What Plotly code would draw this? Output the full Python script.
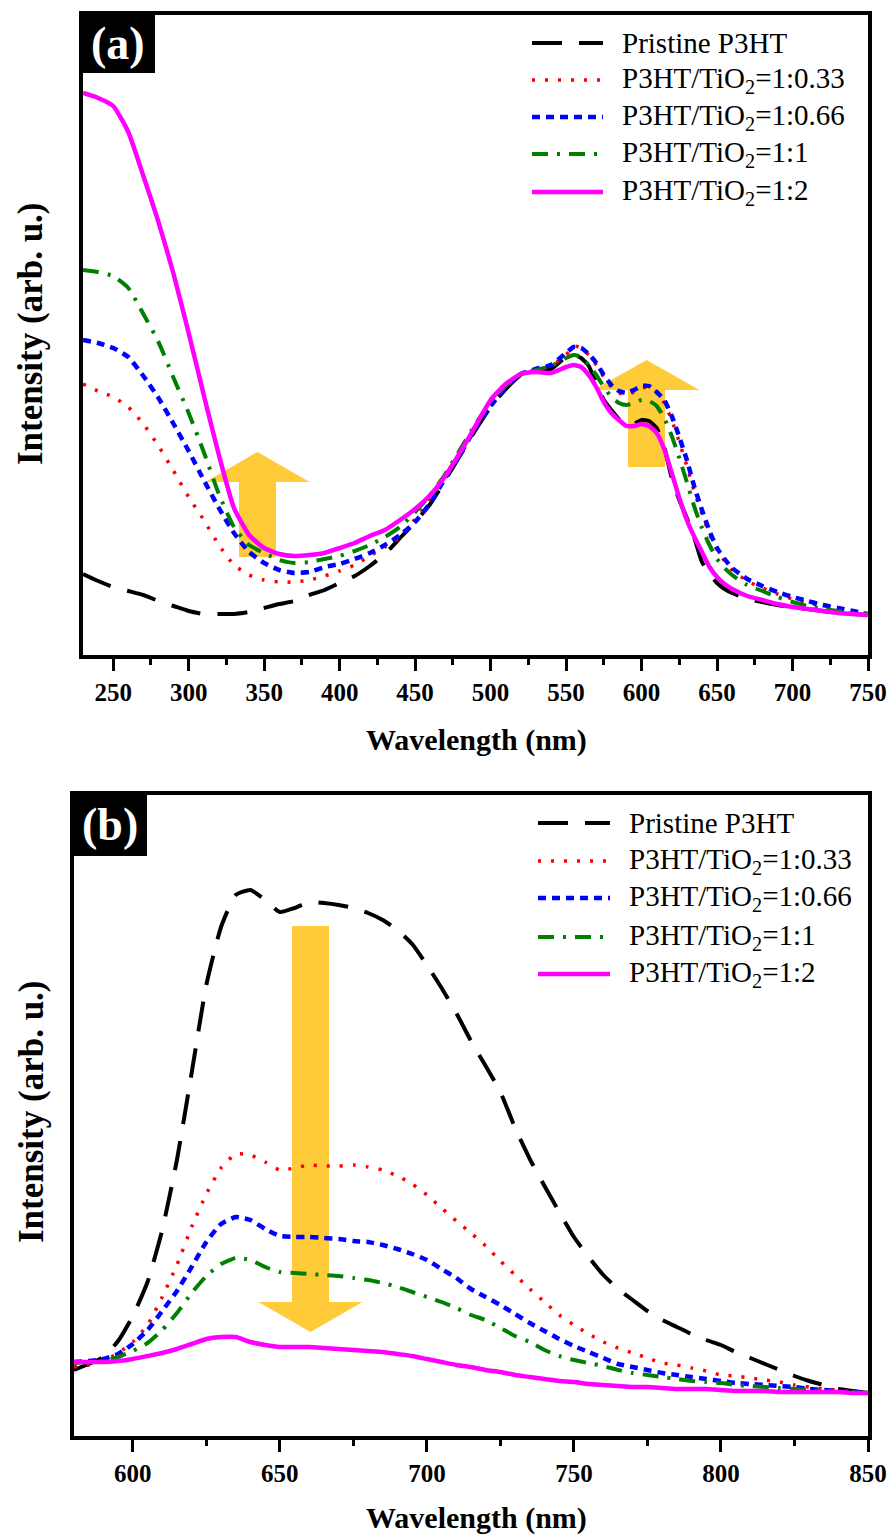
import plotly.graph_objects as go

W, H = 896, 1538

# ---------------- data ----------------
series_names = [
    "Pristine P3HT",
    "P3HT/TiO<sub>2</sub>=1:0.33",
    "P3HT/TiO<sub>2</sub>=1:0.66",
    "P3HT/TiO<sub>2</sub>=1:1",
    "P3HT/TiO<sub>2</sub>=1:2",
]

# (a) absorption, wavelength (nm)
wl_abs = [230, 240, 250, 260, 270, 280, 290, 300, 310, 320, 330, 340, 350, 360, 370, 380,
          390, 400, 410, 420, 430, 440, 450, 460, 470, 480, 490, 500, 510, 520, 530, 540,
          550, 555, 560, 565, 570, 575, 580, 585, 590, 595, 600, 605, 610, 615, 620, 625,
          630, 635, 640, 645, 650, 655,
          660, 670, 680, 690, 700, 710, 720, 730, 740, 750]

abs_pristine = [0.083, 0.076, 0.070, 0.066, 0.062, 0.056, 0.051, 0.046, 0.043, 0.043, 0.043, 0.045,
                0.049, 0.053, 0.056, 0.062, 0.067, 0.074, 0.081, 0.091, 0.103, 0.119, 0.135, 0.153,
                0.177, 0.202, 0.227, 0.250, 0.268, 0.282, 0.286, 0.288,
                0.300, 0.302, 0.299, 0.291, 0.274, 0.257, 0.247, 0.238, 0.233, 0.233, 0.237, 0.236,
                0.229, 0.210, 0.179, 0.157, 0.139, 0.119, 0.095, 0.083, 0.074, 0.068,
                0.064, 0.058, 0.055, 0.052, 0.050, 0.048, 0.046, 0.044, 0.043, 0.042]
abs_033 = [0.273, 0.266, 0.260, 0.250, 0.233, 0.211, 0.186, 0.160, 0.137, 0.112, 0.092, 0.082,
           0.077, 0.075, 0.075, 0.077, 0.081, 0.086, 0.092, 0.101, 0.110, 0.120, 0.138, 0.158,
           0.182, 0.205, 0.229, 0.251, 0.268, 0.282, 0.287, 0.291,
           0.302, 0.311, 0.309, 0.302, 0.292, 0.280, 0.270, 0.264, 0.262, 0.265, 0.269, 0.270,
           0.265, 0.254, 0.237, 0.215, 0.191, 0.165, 0.143, 0.123, 0.107, 0.096,
           0.087, 0.076, 0.069, 0.063, 0.058, 0.054, 0.051, 0.048, 0.045, 0.043]
abs_066 = [0.317, 0.314, 0.309, 0.300, 0.281, 0.259, 0.233, 0.206, 0.177, 0.149, 0.124, 0.105,
           0.094, 0.087, 0.084, 0.085, 0.090, 0.093, 0.098, 0.104, 0.112, 0.122, 0.135, 0.154,
           0.179, 0.203, 0.229, 0.251, 0.269, 0.283, 0.288, 0.292,
           0.304, 0.310, 0.309, 0.303, 0.294, 0.282, 0.272, 0.266, 0.264, 0.267, 0.271, 0.271,
           0.265, 0.257, 0.241, 0.220, 0.197, 0.170, 0.147, 0.126, 0.109, 0.098,
           0.089, 0.078, 0.071, 0.065, 0.060, 0.056, 0.052, 0.049, 0.046, 0.043]
abs_1 = [0.387, 0.385, 0.381, 0.369, 0.343, 0.315, 0.279, 0.244, 0.205, 0.163, 0.130, 0.112,
         0.104, 0.097, 0.094, 0.095, 0.098, 0.101, 0.106, 0.112, 0.120, 0.130, 0.145, 0.162,
         0.183, 0.208, 0.233, 0.255, 0.271, 0.282, 0.287, 0.291,
         0.299, 0.302, 0.300, 0.292, 0.282, 0.270, 0.260, 0.254, 0.252, 0.254, 0.257, 0.256,
         0.251, 0.239, 0.221, 0.199, 0.175, 0.150, 0.129, 0.112, 0.098, 0.089,
         0.082, 0.072, 0.066, 0.060, 0.055, 0.051, 0.048, 0.046, 0.044, 0.043]
abs_2 = [0.564, 0.559, 0.551, 0.525, 0.481, 0.435, 0.383, 0.324, 0.262, 0.202, 0.149, 0.122,
         0.109, 0.103, 0.101, 0.102, 0.104, 0.109, 0.114, 0.121, 0.127, 0.137, 0.148, 0.162,
         0.181, 0.205, 0.231, 0.257, 0.273, 0.283, 0.285, 0.284,
         0.290, 0.292, 0.290, 0.282, 0.270, 0.255, 0.244, 0.237, 0.231, 0.231, 0.233, 0.231,
         0.224, 0.208, 0.184, 0.159, 0.137, 0.120, 0.105, 0.090, 0.080, 0.073,
         0.068, 0.061, 0.057, 0.053, 0.050, 0.048, 0.046, 0.044, 0.043, 0.042]

# (b) photoluminescence, wavelength (nm)
wl_pl = [580, 585, 590, 595, 600, 605, 610, 615, 620, 625,
         630, 635, 640, 645, 650, 655, 660, 665, 670, 675,
         680, 685, 690, 695, 700, 705, 710, 715, 720, 725,
         730, 735, 740, 745, 750, 755, 760, 765, 770, 775,
         780, 785, 790, 795, 800, 805, 810, 815, 820, 825,
         830, 835, 840, 845, 850]

pl_pristine = [680, 740, 810, 970, 1220, 1560, 2080, 2780, 3650, 4530,
               5110, 5430, 5480, 5380, 5260, 5300, 5360, 5350, 5330, 5300,
               5250, 5180, 5080, 4940, 4730, 4500, 4250, 3970, 3720, 3460,
               3100, 2790, 2520, 2260, 2010, 1810, 1630, 1490, 1380, 1270,
               1180, 1110, 1040, 980, 930, 860, 800, 740, 680, 620,
               570, 530, 490, 470, 450]
pl_033 = [710, 730, 770, 850, 960, 1130, 1410, 1730, 2110, 2440,
          2700, 2840, 2830, 2760, 2680, 2700, 2730, 2720, 2720, 2730,
          2710, 2680, 2620, 2540, 2430, 2300, 2170, 2050, 1920, 1770,
          1630, 1490, 1360, 1230, 1130, 1040, 960, 900, 850, 800,
          750, 730, 700, 670, 630, 620, 600, 580, 560, 530,
          510, 490, 480, 460, 450]
pl_066 = [760, 770, 790, 840, 940, 1080, 1270, 1470, 1710, 1960,
          2140, 2210, 2180, 2090, 2020, 2010, 2010, 2000, 1990, 1970,
          1960, 1930, 1890, 1840, 1780, 1690, 1600, 1490, 1410, 1330,
          1240, 1150, 1070, 990, 920, 860, 800, 740, 710, 680,
          650, 630, 610, 590, 570, 550, 540, 530, 520, 510,
          490, 480, 470, 460, 450]
pl_1 = [750, 760, 770, 810, 870, 950, 1080, 1250, 1450, 1620,
        1740, 1800, 1780, 1710, 1660, 1650, 1640, 1630, 1620, 1600,
        1580, 1550, 1510, 1460, 1410, 1360, 1300, 1230, 1180, 1100,
        1020, 960, 880, 820, 780, 750, 720, 680, 650, 630,
        610, 590, 570, 560, 550, 530, 520, 510, 500, 490,
        480, 470, 460, 460, 450]
pl_2 = [760, 760, 760, 770, 790, 820, 850, 890, 940, 990,
        1010, 1010, 960, 930, 910, 910, 910, 900, 890, 880,
        870, 860, 840, 820, 790, 760, 730, 710, 680, 660,
        630, 610, 590, 570, 560, 540, 530, 520, 510, 510,
        500, 490, 490, 490, 480, 470, 470, 470, 460, 460,
        460, 460, 460, 450, 450]

abs_series = [abs_pristine, abs_033, abs_066, abs_1, abs_2]
pl_series = [pl_pristine, pl_033, pl_066, pl_1, pl_2]

abs_ticks = [250, 300, 350, 400, 450, 500, 550, 600, 650, 700, 750]
pl_ticks = [600, 650, 700, 750, 800, 850]

# ---------------- styles ----------------
colors = ["#000000", "#FF0000", "#0000FF", "#008000", "#FF00FF"]
dashes = ["30px,17px", "3px,10px", "8px,6px", "16px,9px,3px,9px", "solid"]
widths = [4, 3.5, 4.5, 4, 4.5]
SERIF = "Liberation Serif"


def px(x):
    return x / W


def py(y):
    return 1 - y / H


fig = go.Figure()

for name, ys, c, d, w in zip(series_names, abs_series, colors, dashes, widths):
    fig.add_trace(go.Scatter(x=wl_abs, y=ys, mode="lines", name=name,
                             line=dict(color=c, dash=d, width=w, shape="spline", smoothing=0.5),
                             xaxis="x", yaxis="y", showlegend=False))
for name, ys, c, d, w in zip(series_names, pl_series, colors, dashes, widths):
    fig.add_trace(go.Scatter(x=wl_pl, y=ys, mode="lines", name=name,
                             line=dict(color=c, dash=d, width=w, shape="spline", smoothing=0.5),
                             xaxis="x2", yaxis="y2", showlegend=False))

tickfont = dict(family=SERIF, size=25, color="black", weight="bold")
xcommon = dict(showline=True, linewidth=4, linecolor="black", mirror=True,
               ticks="outside", ticklen=12, tickwidth=3, tickcolor="black",
               showgrid=False, zeroline=False, tickfont=tickfont, automargin=False,
               minor=dict(ticks="outside", ticklen=6, tickwidth=3, tickcolor="black", dtick=25))
ycommon = dict(showline=True, linewidth=4, linecolor="black", mirror=True, automargin=False,
               ticks="", showticklabels=False, showgrid=False, zeroline=False)

fig.update_layout(
    width=W, height=H,
    autosize=False,
    margin=dict(l=0, r=0, t=0, b=0, autoexpand=False),
    paper_bgcolor="white", plot_bgcolor="white",
    showlegend=False,
    xaxis=dict(domain=[px(83), px(868)], range=[230, 750], tickvals=abs_ticks, anchor="y", **xcommon),
    yaxis=dict(domain=[py(655), py(15)], range=[0.002, 0.642], anchor="x", **ycommon),
    xaxis2=dict(domain=[px(74), px(868)], range=[580, 850], tickvals=pl_ticks, anchor="y2", **xcommon),
    yaxis2=dict(domain=[py(1436), py(795)], range=[20, 6430], anchor="x2", **ycommon),
)

shapes = []
annotations = []

# ---- arrows (decoration) ----
arrow_fill = "rgba(255,188,0,0.78)"


def up_arrow(cx, apex_y, base_y, half_head, half_body, bottom_y):
    pts = [(cx, apex_y), (cx + half_head, base_y), (cx + half_body, base_y), (cx + half_body, bottom_y),
           (cx - half_body, bottom_y), (cx - half_body, base_y), (cx - half_head, base_y)]
    return "M " + " L ".join(f"{px(a):.5f},{py(b):.5f}" for a, b in pts) + " Z"


shapes.append(dict(type="path", xref="paper", yref="paper", layer="below",
                   path=up_arrow(257.5, 452, 482, 52, 18.5, 557), fillcolor=arrow_fill, line=dict(width=0)))
shapes.append(dict(type="path", xref="paper", yref="paper", layer="below",
                   path=up_arrow(646.5, 360, 390, 53, 18.5, 467), fillcolor=arrow_fill, line=dict(width=0)))
shapes.append(dict(type="path", xref="paper", yref="paper", layer="below",
                   path=up_arrow(310.5, 1332, 1302, 52, 18.5, 926), fillcolor=arrow_fill, line=dict(width=0)))

# ---- panel labels ----
for (x0, y0, x1, y1, lab) in [(80, 13, 155, 73, "(a)"), (72, 793, 147, 856, "(b)")]:
    shapes.append(dict(type="rect", xref="paper", yref="paper", x0=px(x0), x1=px(x1), y0=py(y1), y1=py(y0),
                       fillcolor="black", line=dict(width=0)))
    annotations.append(dict(text=lab, x=px((x0 + x1) / 2), y=py((y0 + y1) / 2), xref="paper", yref="paper",
                            xanchor="center", yanchor="middle", showarrow=False,
                            font=dict(family=SERIF, size=46, color="white", weight="bold")))

# ---- custom legends ----
legend_specs = [
    (532, 603, 620, [43, 80, 117, 154, 192]),
    (538, 610, 627, [823, 861, 898, 937, 974]),
]
for lx0, lx1, tx, rows in legend_specs:
    for name, c, d, w, ry in zip(series_names, colors, dashes, widths, rows):
        shapes.append(dict(type="line", xref="paper", yref="paper", x0=px(lx0), x1=px(lx1),
                           y0=py(ry), y1=py(ry), line=dict(color=c, dash=d, width=w)))
        annotations.append(dict(text=name, x=px(tx), y=py(ry), xref="paper", yref="paper",
                                xanchor="left", yanchor="middle", showarrow=False,
                                font=dict(family=SERIF, size=29, color="black")))

# ---- axis titles ----
title_font = dict(family=SERIF, size=30, color="black", weight="bold")
for (x, y) in [(476, 740), (476, 1518)]:
    annotations.append(dict(text="Wavelength (nm)", x=px(x), y=py(y), xref="paper", yref="paper",
                            xanchor="center", yanchor="middle", showarrow=False, font=title_font))
for (x, y) in [(31, 334), (31, 1112)]:
    annotations.append(dict(text="Intensity (arb. u.)", x=px(x), y=py(y), xref="paper", yref="paper",
                            xanchor="center", yanchor="middle", showarrow=False, textangle=-90,
                            font=dict(family=SERIF, size=35, color="black", weight="bold")))

fig.update_layout(shapes=shapes, annotations=annotations)

page_fix = ("document.documentElement.style.overflow='hidden';"
            "document.body.style.margin='0';document.body.style.padding='0';"
            "document.body.style.overflow='hidden';")
fig.write_html("out.html", post_script=page_fix, config={"displayModeBar": False})
